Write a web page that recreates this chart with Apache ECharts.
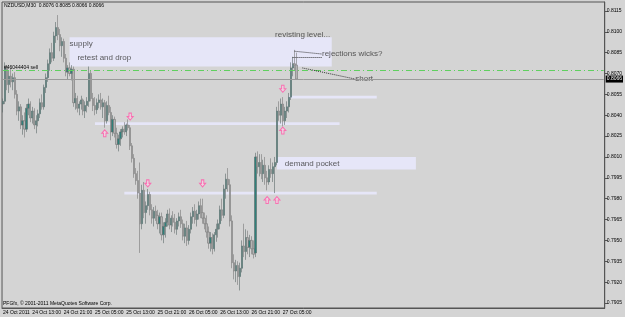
<!DOCTYPE html>
<html>
<head>
<meta charset="utf-8">
<script src="https://cdn.jsdelivr.net/npm/echarts@6/dist/echarts.min.js"></script>
<style>
html,body{margin:0;padding:0;background:#d4d4d4;}
#chart{width:625px;height:317px;}
</style>
</head>
<body>
<div id="chart"></div>
<script>
// NZDUSD M30, bars from 24 Oct 2011 05:30 to 27 Oct 08:30, prices in pips (x 0.0001)
var opens = [
  8048,8050,8074,8062,8068,8064,8067,8055,8043,8046,
  8033,8036,8030,8045,8048,8038,8043,8033,8036,8041,
  8049,8046,8060,8067,8077,8085,8081,8097,8103,8098,
  8090,8093,8081,8071,8074,8070,8073,8049,8052,8045,
  8048,8051,8043,8047,8050,8070,8052,8047,8044,8049,
  8051,8046,8049,8036,8047,8042,8028,8037,8027,8019,
  8023,8028,8030,8028,8033,8031,8018,8009,7998,7993,
  7984,7962,7986,7970,7975,7983,7972,7966,7971,7968,
  7962,7967,7954,7960,7963,7969,7961,7966,7963,7958,
  7964,7967,7962,7953,7959,7950,7958,7967,7971,7965,
  7969,7975,7970,7966,7962,7956,7948,7952,7944,7954,
  7958,7962,7972,7968,7987,7994,7990,7964,7934,7928,
  7932,7924,7930,7946,7942,7952,7945,7950,7944,7941,
  8010,8003,8006,7998,8004,7995,7992,8001,7998,8003,
  8006,8043,8040,8048,8036,8043,8046,8053,8074,8077,8076
];
var highs = [
  8052,8078,8076,8072,8074,8070,8071,8058,8050,8048,
  8040,8042,8048,8052,8050,8046,8045,8040,8044,8052,
  8055,8062,8070,8080,8088,8092,8100,8107,8112,8102,
  8096,8095,8084,8076,8078,8076,8075,8056,8054,8050,
  8054,8052,8050,8053,8075,8072,8056,8053,8052,8055,
  8056,8052,8051,8050,8054,8046,8040,8039,8031,8026,
  8030,8032,8035,8034,8037,8033,8020,8012,8002,8000,
  8006,7990,7992,7978,7987,7985,7976,7974,7975,7972,
  7970,7970,7963,7966,7972,7973,7968,7971,7969,7966,
  7970,7972,7965,7962,7964,7961,7970,7974,7976,7972,
  7978,7980,7980,7970,7968,7960,7956,7955,7956,7962,
  7965,7975,7980,7990,7998,8002,7994,7968,7940,7936,
  7935,7934,7950,7962,7958,7957,7954,7953,7950,8013,
  8014,8012,8012,8008,8010,8000,8004,8009,8006,8010,
  8046,8050,8052,8053,8046,8050,8056,8078,8082,8087,8085
];
var lows = [
  8042,8048,8058,8056,8060,8058,8052,8040,8036,8030,
  8026,8024,8028,8040,8035,8034,8030,8027,8032,8038,
  8044,8044,8056,8064,8072,8078,8079,8092,8094,8086,
  8082,8078,8068,8066,8068,8065,8046,8044,8042,8040,
  8044,8040,8038,8042,8046,8050,8043,8040,8041,8045,
  8044,8038,8031,8034,8040,8022,8025,8024,8016,8014,
  8018,8024,8026,8025,8029,8015,8006,7995,7990,7980,
  7941,7958,7966,7962,7972,7968,7962,7960,7964,7958,
  7955,7950,7948,7952,7960,7958,7956,7960,7955,7954,
  7960,7959,7950,7948,7946,7947,7955,7962,7962,7960,
  7965,7966,7962,7958,7952,7944,7942,7940,7942,7949,
  7952,7958,7964,7966,7980,7985,7960,7930,7922,7920,
  7918,7914,7927,7938,7936,7940,7938,7940,7937,7938,
  7998,7996,7994,7992,7990,7986,7990,7995,7992,7984,
  8004,8036,8034,8032,8033,8038,8042,8051,8068,8072,8066
];
var closes = [
  8050,8074,8062,8068,8064,8067,8055,8043,8046,8033,
  8036,8030,8045,8048,8038,8043,8033,8036,8041,8049,
  8046,8060,8067,8077,8085,8081,8097,8103,8098,8090,
  8093,8081,8071,8074,8070,8073,8049,8052,8045,8048,
  8051,8043,8047,8050,8070,8052,8047,8044,8049,8051,
  8046,8049,8036,8047,8042,8028,8037,8027,8019,8023,
  8028,8030,8028,8033,8031,8018,8009,7998,7993,7984,
  7962,7986,7970,7975,7983,7972,7966,7971,7968,7962,
  7967,7954,7960,7963,7969,7961,7966,7963,7958,7964,
  7967,7962,7953,7959,7950,7958,7967,7971,7965,7969,
  7975,7970,7966,7962,7956,7948,7952,7944,7954,7958,
  7962,7972,7968,7987,7994,7990,7964,7934,7928,7932,
  7924,7930,7946,7942,7952,7945,7950,7944,7940,8010,
  8003,8006,7998,8004,7995,7992,8001,7998,8003,8006,
  8043,8040,8048,8036,8043,8046,8053,8074,8077,8076,8066
];

// x axis: bar slots (chart keeps empty space on the right)
var slotCount = 308;
var xTickIndex = [0, 15, 31, 47, 63, 79, 95, 111, 127, 143];
var xTickLabels = ['24 Oct 2011', '24 Oct 13:00', '24 Oct 21:00', '25 Oct 05:00', '25 Oct 13:00',
                   '25 Oct 21:00', '26 Oct 05:00', '26 Oct 13:00', '26 Oct 21:00', '27 Oct 05:00'];
var yTicks = [0.7905, 0.7920, 0.7935, 0.7950, 0.7965, 0.7980, 0.7995, 0.8010, 0.8025,
              0.8040, 0.8055, 0.8070, 0.8085, 0.8100, 0.8115];

// levels
var sellLevel = 0.8072;
var bidLevel = 0.8066;
var supplyZone = [34, 168, 0.8075, 0.8096];   // from bar, to bar, low, high
var demandZone = [140, 211, 0.8001, 0.8010];
var levelLines = [[146, 191, 0.8053], [47, 172, 0.8034], [62, 191, 0.7984]];

// fractal-style arrows
var upArrowIdx = [52, 143, 135, 140];
var upArrowPrice = [0.8027, 0.8029, 0.7979, 0.7979];
var downArrowIdx = [65, 74, 102, 143];
var downArrowPrice = [0.8039, 0.7991, 0.7991, 0.8059];

// notes
var noteText = ['supply', 'retest and drop', 'revisting level...', 'rejections wicks?', 'short', 'demand pocket'];
var noteIdx = [34, 38, 139, 163, 180, 144];
var notePrice = [0.8091, 0.8081, 0.8098, 0.8084, 0.8066, 0.8005];

var categories = [];
var t0 = Date.UTC(2011, 9, 24, 5, 30);
for (var i = 0; i < slotCount; i++) {
    var d = new Date(t0 + i * 30 * 60000);
    categories.push(d.toISOString().slice(0, 16));
}

var candles = [];
for (var i = 0; i < opens.length; i++) {
    candles.push([opens[i] / 10000, closes[i] / 10000, lows[i] / 10000, highs[i] / 10000]);
}

var areas = [];
areas.push([{xAxis: supplyZone[0], yAxis: supplyZone[2]}, {xAxis: supplyZone[1], yAxis: supplyZone[3]}]);
areas.push([{xAxis: demandZone[0], yAxis: demandZone[2]}, {xAxis: demandZone[1], yAxis: demandZone[3]}]);
levelLines.forEach(function (l) {
    areas.push([{xAxis: l[0], yAxis: l[2] - 0.0001}, {xAxis: l[1], yAxis: l[2] + 0.0001}]);
});

var dotted = {type: 'dotted', color: '#333', width: 1};
var font = 'Liberation Sans, Arial, sans-serif';
var last = slotCount - 1;

var chart = echarts.init(document.getElementById('chart'));
var option = {
    animation: false,
    backgroundColor: '#d4d4d4',
    grid: {left: 2, right: 19, top: 2, bottom: 9, show: true, borderColor: '#555', borderWidth: 1},
    graphic: [
        {type: 'text', left: 4, top: 3, style: {text: 'NZDUSD,M30  0.8076 0.8085 0.8066 0.8066', fontSize: 5, fill: '#000', fontFamily: font}},
        {type: 'text', left: 3, top: 301, style: {text: 'PFGfx, \u00a9 2001-2011 MetaQuotes Software Corp.', fontSize: 5, fill: '#000', fontFamily: font}}
    ],
    xAxis: {
        type: 'category',
        data: categories,
        boundaryGap: true,
        axisLine: {lineStyle: {color: '#555'}},
        axisTick: {
            alignWithLabel: true, length: 3, lineStyle: {color: '#555'},
            interval: function (idx) { return xTickIndex.indexOf(idx) >= 0; }
        },
        axisLabel: {
            fontSize: 5, color: '#000', align: 'left', margin: 2, fontFamily: font,
            interval: function (idx) { return xTickIndex.indexOf(idx) >= 0; },
            formatter: function (v, idx) {
                var k = xTickIndex.indexOf(idx);
                return k >= 0 ? xTickLabels[k] : '';
            }
        },
        splitLine: {show: false}
    },
    yAxis: {
        type: 'value',
        position: 'right',
        min: 0.79014,
        max: 0.81214,
        splitLine: {show: false},
        axisLine: {show: true, lineStyle: {color: '#555'}},
        axisTick: {show: true, length: 3, customValues: yTicks, lineStyle: {color: '#555'}},
        axisLabel: {
            customValues: yTicks, fontSize: 5, color: '#000', margin: 2, fontFamily: font,
            formatter: function (v) { return v.toFixed(4); }
        }
    },
    series: [
        {
            type: 'candlestick',
            data: candles,
            barWidth: 1.7,
            itemStyle: {
                color: '#2f807a', color0: '#b4b4b4',
                borderColor: '#5c6a69', borderColor0: '#777777', borderWidth: 0.6
            },
            markArea: {
                silent: true,
                itemStyle: {color: '#e6e6f8'},
                data: areas
            },
            markLine: {
                silent: true,
                symbol: ['none', 'none'],
                data: [
                    [{coord: [0, sellLevel], lineStyle: {type: [6, 3, 1, 3], color: '#5fd05f', width: 1},
                      label: {show: true, position: 'insideStartTop', formatter: '#46044404 sell', fontSize: 5, color: '#000', distance: 1, fontFamily: font}},
                     {coord: [last, sellLevel]}],
                    [{coord: [0, bidLevel], lineStyle: {type: 'solid', color: '#9a9a9a', width: 1},
                      label: {show: true, position: 'end', formatter: '0.8066', fontSize: 5, color: '#fff', backgroundColor: '#000', padding: [1, 1], distance: 2, fontFamily: font}},
                     {coord: [last, bidLevel]}],
                    [{coord: [149, 0.8086], lineStyle: dotted, label: {show: false}}, {coord: [163, 0.8084]}],
                    [{coord: [148, 0.8082], lineStyle: dotted, label: {show: false}}, {coord: [163, 0.8082]}],
                    [{coord: [153, 0.8074], lineStyle: dotted, label: {show: false}}, {coord: [180, 0.8066]}]
                ]
            }
        },
        {
            type: 'scatter',
            symbol: 'path://M5,0L10,5L7,5L7,10L3,10L3,5L0,5Z',
            symbolSize: [6, 7],
            itemStyle: {color: '#f3d3e4', borderColor: '#ff58a8', borderWidth: 1},
            data: upArrowIdx.map(function (x, i) { return [x, upArrowPrice[i]]; })
        },
        {
            type: 'scatter',
            symbol: 'path://M3,0L7,0L7,5L10,5L5,10L0,5L3,5Z',
            symbolSize: [6, 7],
            itemStyle: {color: '#f3d3e4', borderColor: '#ff58a8', borderWidth: 1},
            data: downArrowIdx.map(function (x, i) { return [x, downArrowPrice[i]]; })
        },
        {
            type: 'scatter',
            symbolSize: 0.1,
            itemStyle: {color: 'transparent'},
            label: {show: true, position: 'right', distance: 0, formatter: '{b}', fontSize: 8, color: '#333', fontFamily: font},
            data: noteText.map(function (t, i) { return {name: t, value: [noteIdx[i], notePrice[i]]}; })
        }
    ]
};
chart.setOption(option);
</script>
</body>
</html>
